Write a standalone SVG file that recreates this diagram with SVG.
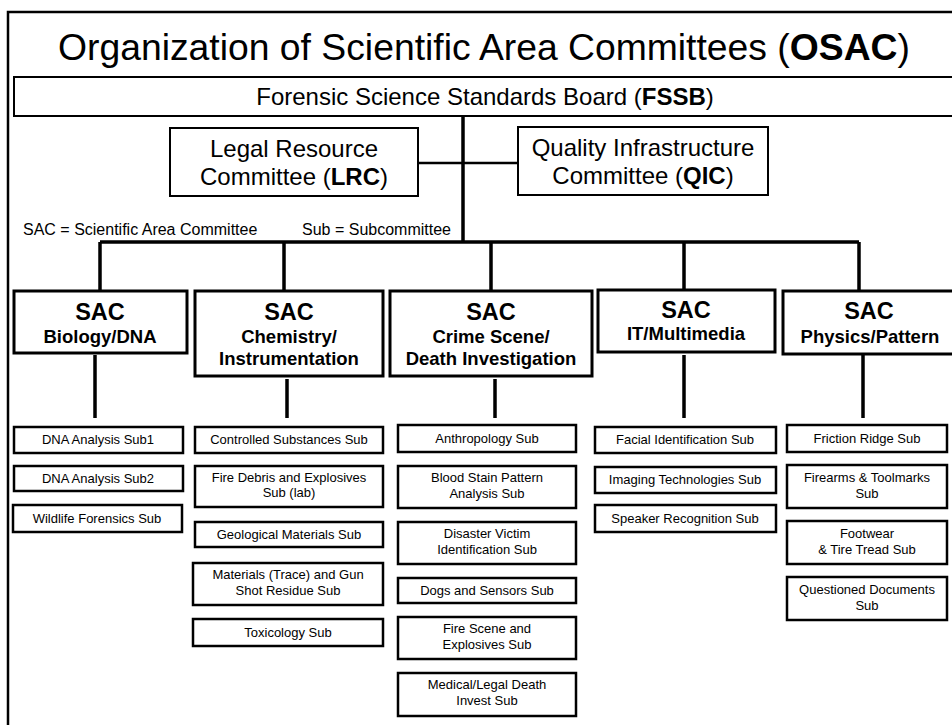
<svg xmlns="http://www.w3.org/2000/svg" width="952" height="725" viewBox="0 0 952 725">
<style>
text{font-family:"Liberation Sans",Arial,sans-serif;fill:#000;text-anchor:middle}
.frame{fill:#fff;stroke:#000;stroke-width:2.5}
.box{fill:#fff;stroke:#000;stroke-width:2}
.sac{fill:#fff;stroke:#000;stroke-width:3}
.sub{fill:#fff;stroke:#000;stroke-width:2.5}
.ln{fill:none;stroke:#000;stroke-width:3.5}
.t13{font-size:13px}
.t24{font-size:24px}
.sacT{font-size:23.5px;font-weight:bold}
.sacS{font-size:18.5px;font-weight:bold}
</style>
<rect x="0" y="0" width="952" height="725" fill="#fff"/>
<rect class="frame" x="8" y="12" width="960" height="730"/>
<text x="484" y="60" font-size="37.3">Organization of Scientific Area Committees (<tspan font-weight="bold">OSAC</tspan>)</text>
<g id="fssb"><rect class="box" x="14" y="77" width="950" height="39"/><text class="t24" x="485" y="105">Forensic Science Standards Board (<tspan font-weight="bold">FSSB</tspan>)</text></g>
<g id="connectors">
<path class="ln" d="M463 116V242"/>
<path class="ln" d="M418 163H518" style="stroke-width:2.5"/>
<path class="ln" d="M100 242H859"/>
<path class="ln" d="M100 242V291M284 242V291M491 242V291M684 242V291M859 242V291"/>
<path class="ln" d="M95 355V418M287 379V418M495 379V418M684 355V418M863 355V418"/>
</g>
<g id="lrc"><rect class="box" x="170" y="128" width="248" height="68"/><text class="t24" x="294" y="157">Legal Resource</text><text class="t24" x="294" y="185">Committee (<tspan font-weight="bold">LRC</tspan>)</text></g>
<g id="qic"><rect class="box" x="518" y="127" width="250" height="68"/><text class="t24" x="643" y="156">Quality Infrastructure</text><text class="t24" x="643" y="184">Committee (<tspan font-weight="bold">QIC</tspan>)</text></g>
<text x="23" y="235" font-size="16" style="text-anchor:start">SAC = Scientific Area Committee</text>
<text x="302" y="235" font-size="16" style="text-anchor:start">Sub = Subcommittee</text>
<g id="sac-bio"><rect class="sac" x="14" y="291" width="173" height="62"/><text class="sacT" x="100" y="320">SAC</text><text class="sacS" x="100" y="343">Biology/DNA</text></g>
<g id="sac-chem"><rect class="sac" x="195" y="291" width="188" height="85"/><text class="sacT" x="289" y="320">SAC</text><text class="sacS" x="289" y="343">Chemistry/</text><text class="sacS" x="289" y="365">Instrumentation</text></g>
<g id="sac-crime"><rect class="sac" x="390" y="291" width="202" height="85"/><text class="sacT" x="491" y="320">SAC</text><text class="sacS" x="491" y="343">Crime Scene/</text><text class="sacS" x="491" y="365">Death Investigation</text></g>
<g id="sac-it"><rect class="sac" x="598" y="290" width="177" height="62"/><text class="sacT" x="686" y="318">SAC</text><text class="sacS" x="686" y="340">IT/Multimedia</text></g>
<g id="sac-phys"><rect class="sac" x="783" y="291" width="180" height="63"/><text class="sacT" x="869" y="319">SAC</text><text class="sacS" x="870" y="343">Physics/Pattern</text></g>
<g id="sub-dna1"><rect class="sub" x="14" y="427" width="169" height="26"/><text class="t13" x="98" y="444">DNA Analysis Sub1</text></g>
<g id="sub-dna2"><rect class="sub" x="14" y="466" width="169" height="25"/><text class="t13" x="98" y="483">DNA Analysis Sub2</text></g>
<g id="sub-wild"><rect class="sub" x="13" y="505" width="169" height="27"/><text class="t13" x="97" y="523">Wildlife Forensics Sub</text></g>
<g id="sub-cs"><rect class="sub" x="195" y="427" width="188" height="26"/><text class="t13" x="289" y="444">Controlled Substances Sub</text></g>
<g id="sub-fd"><rect class="sub" x="195" y="466" width="188" height="41"/><text class="t13" x="289" y="482">Fire Debris and Explosives</text><text class="t13" x="289" y="497">Sub (lab)</text></g>
<g id="sub-geo"><rect class="sub" x="195" y="522" width="188" height="25"/><text class="t13" x="289" y="539">Geological Materials Sub</text></g>
<g id="sub-mat"><rect class="sub" x="193" y="563" width="190" height="42"/><text class="t13" x="288" y="579">Materials (Trace) and Gun</text><text class="t13" x="288" y="595">Shot Residue Sub</text></g>
<g id="sub-tox"><rect class="sub" x="193" y="619" width="190" height="27"/><text class="t13" x="288" y="637">Toxicology Sub</text></g>
<g id="sub-anth"><rect class="sub" x="398" y="425" width="178" height="27"/><text class="t13" x="487" y="443">Anthropology Sub</text></g>
<g id="sub-bs"><rect class="sub" x="398" y="466" width="178" height="42"/><text class="t13" x="487" y="482">Blood Stain Pattern</text><text class="t13" x="487" y="498">Analysis Sub</text></g>
<g id="sub-dv"><rect class="sub" x="398" y="522" width="178" height="42"/><text class="t13" x="487" y="538">Disaster Victim</text><text class="t13" x="487" y="554">Identification Sub</text></g>
<g id="sub-dog"><rect class="sub" x="398" y="578" width="178" height="25"/><text class="t13" x="487" y="595">Dogs and Sensors Sub</text></g>
<g id="sub-fs"><rect class="sub" x="398" y="617" width="178" height="42"/><text class="t13" x="487" y="633">Fire Scene and</text><text class="t13" x="487" y="649">Explosives Sub</text></g>
<g id="sub-med"><rect class="sub" x="398" y="673" width="178" height="43"/><text class="t13" x="487" y="689">Medical/Legal Death</text><text class="t13" x="487" y="705">Invest Sub</text></g>
<g id="sub-face"><rect class="sub" x="595" y="427" width="181" height="26"/><text class="t13" x="685" y="444">Facial Identification Sub</text></g>
<g id="sub-img"><rect class="sub" x="595" y="467" width="181" height="26"/><text class="t13" x="685" y="484">Imaging Technologies Sub</text></g>
<g id="sub-spk"><rect class="sub" x="595" y="505" width="181" height="27"/><text class="t13" x="685" y="523">Speaker Recognition Sub</text></g>
<g id="sub-fr"><rect class="sub" x="787" y="425" width="160" height="27"/><text class="t13" x="867" y="443">Friction Ridge Sub</text></g>
<g id="sub-fa"><rect class="sub" x="787" y="465" width="160" height="43"/><text class="t13" x="867" y="482">Firearms &amp; Toolmarks</text><text class="t13" x="867" y="498">Sub</text></g>
<g id="sub-fw"><rect class="sub" x="787" y="521" width="160" height="43"/><text class="t13" x="867" y="538">Footwear</text><text class="t13" x="867" y="554">&amp; Tire Tread Sub</text></g>
<g id="sub-qd"><rect class="sub" x="787" y="577" width="160" height="43"/><text class="t13" x="867" y="594">Questioned Documents</text><text class="t13" x="867" y="610">Sub</text></g>
</svg>
